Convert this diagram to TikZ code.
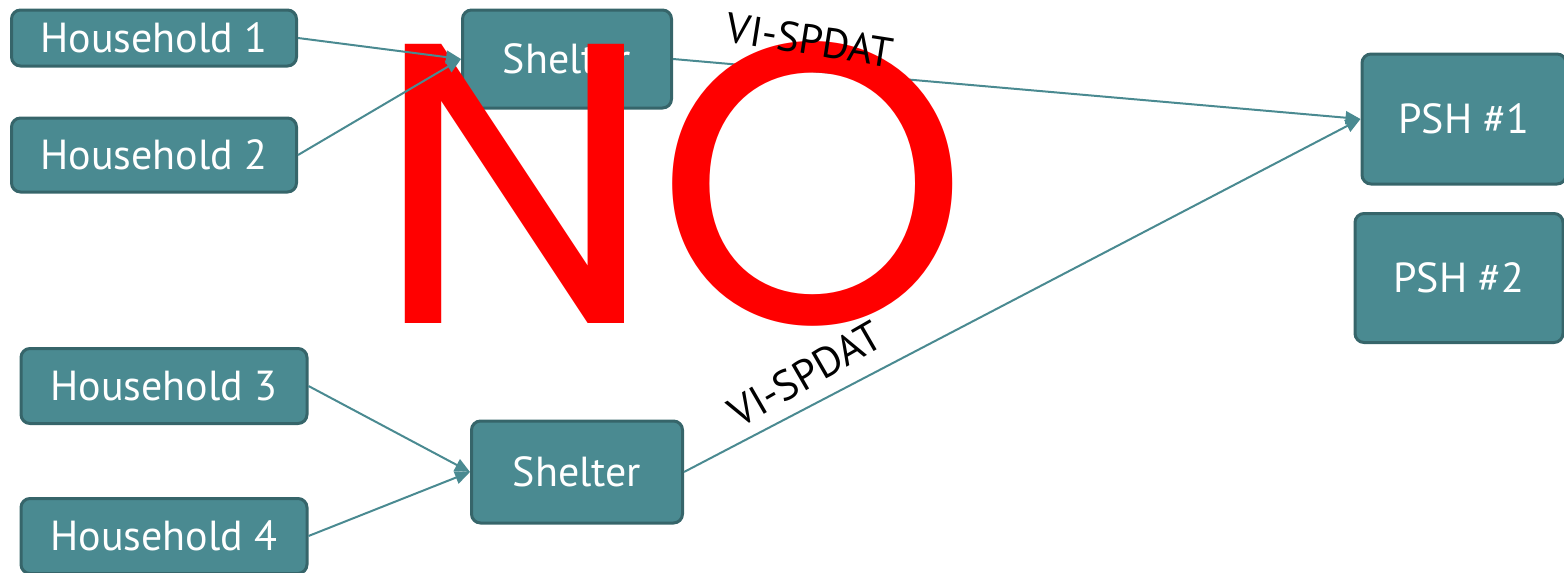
\documentclass[tikz,border=0pt]{standalone}
\usepackage{fontspec}
\setmainfont{PT Sans}
\newfontfamily\nofont{Poppins}
\usetikzlibrary{arrows.meta}
\definecolor{tealfill}{HTML}{4A8A91}
\definecolor{tealline}{HTML}{36656A}
\definecolor{stopred}{HTML}{FF0000}

\begin{document}
\begin{tikzpicture}[
  x=1pt, y=-1pt,
  font=\fontsize{42}{46}\selectfont,
  box/.style = {draw=tealline, line width=3pt, fill=tealfill, rounded corners=9pt,
                text=white, inner sep=0pt},
  ln/.style  = {-{Triangle[length=15pt, width=13pt]}, draw=tealfill, line width=2pt},
  tag/.style = {text=black, inner sep=0pt},
]
\useasboundingbox (0,0) rectangle (1564,573);

% --- households and shelters ---------------------------------------------------------------------
\node[box, minimum width=285pt, minimum height=56pt]  (hh1) at (154,38)  {Household 1};
\node[box, minimum width=285pt, minimum height=74pt]  (hh2) at (154,155) {Household 2};
\node[box, minimum width=286pt, minimum height=75pt]  (hh3) at (164,386) {Household 3};
\node[box, minimum width=286pt, minimum height=75pt]  (hh4) at (164,536) {Household 4};
\node[box, minimum width=209pt, minimum height=98pt]  (top) at (567,59)  {Shelter};
\node[box, minimum width=211pt, minimum height=102pt] (bot) at (577,472) {Shelter};

% --- housing -------------------------------------------------------------------------------------
\node[box, minimum width=204pt, minimum height=130pt] (psh1) at (1464,119) {PSH \#1};
\node[box, minimum width=208pt, minimum height=129pt] (psh2) at (1459,278) {PSH \#2};

% --- shelters -> PSH -----------------------------------------------------------------------------
\draw[ln] (top.east) -- (psh1.west);
\draw[ln] (bot.east) -- (psh1.west);

% --- the big NO ----------------------------------------------------------------------------------
\node[text=stopred, inner sep=0pt, anchor=base, font=\nofont\fontsize{400}{400}\selectfont]
  (no) at (672,323) {NO};

% --- households -> shelters ----------------------------------------------------------------------
\draw[ln] (hh1.east) -- (top.west);
\draw[ln] (hh2.east) -- (top.west);
\draw[ln] (hh3.east) -- (bot.west);
\draw[ln] (hh4.east) -- (bot.west);

% --- labels --------------------------------------------------------------------------------------
\node[tag, rotate=-9]  (lbltop) at (810,40)  {VI-SPDAT};
\node[tag, rotate=30]  (lblbot) at (805,374) {VI-SPDAT};

\end{tikzpicture}
\end{document}
